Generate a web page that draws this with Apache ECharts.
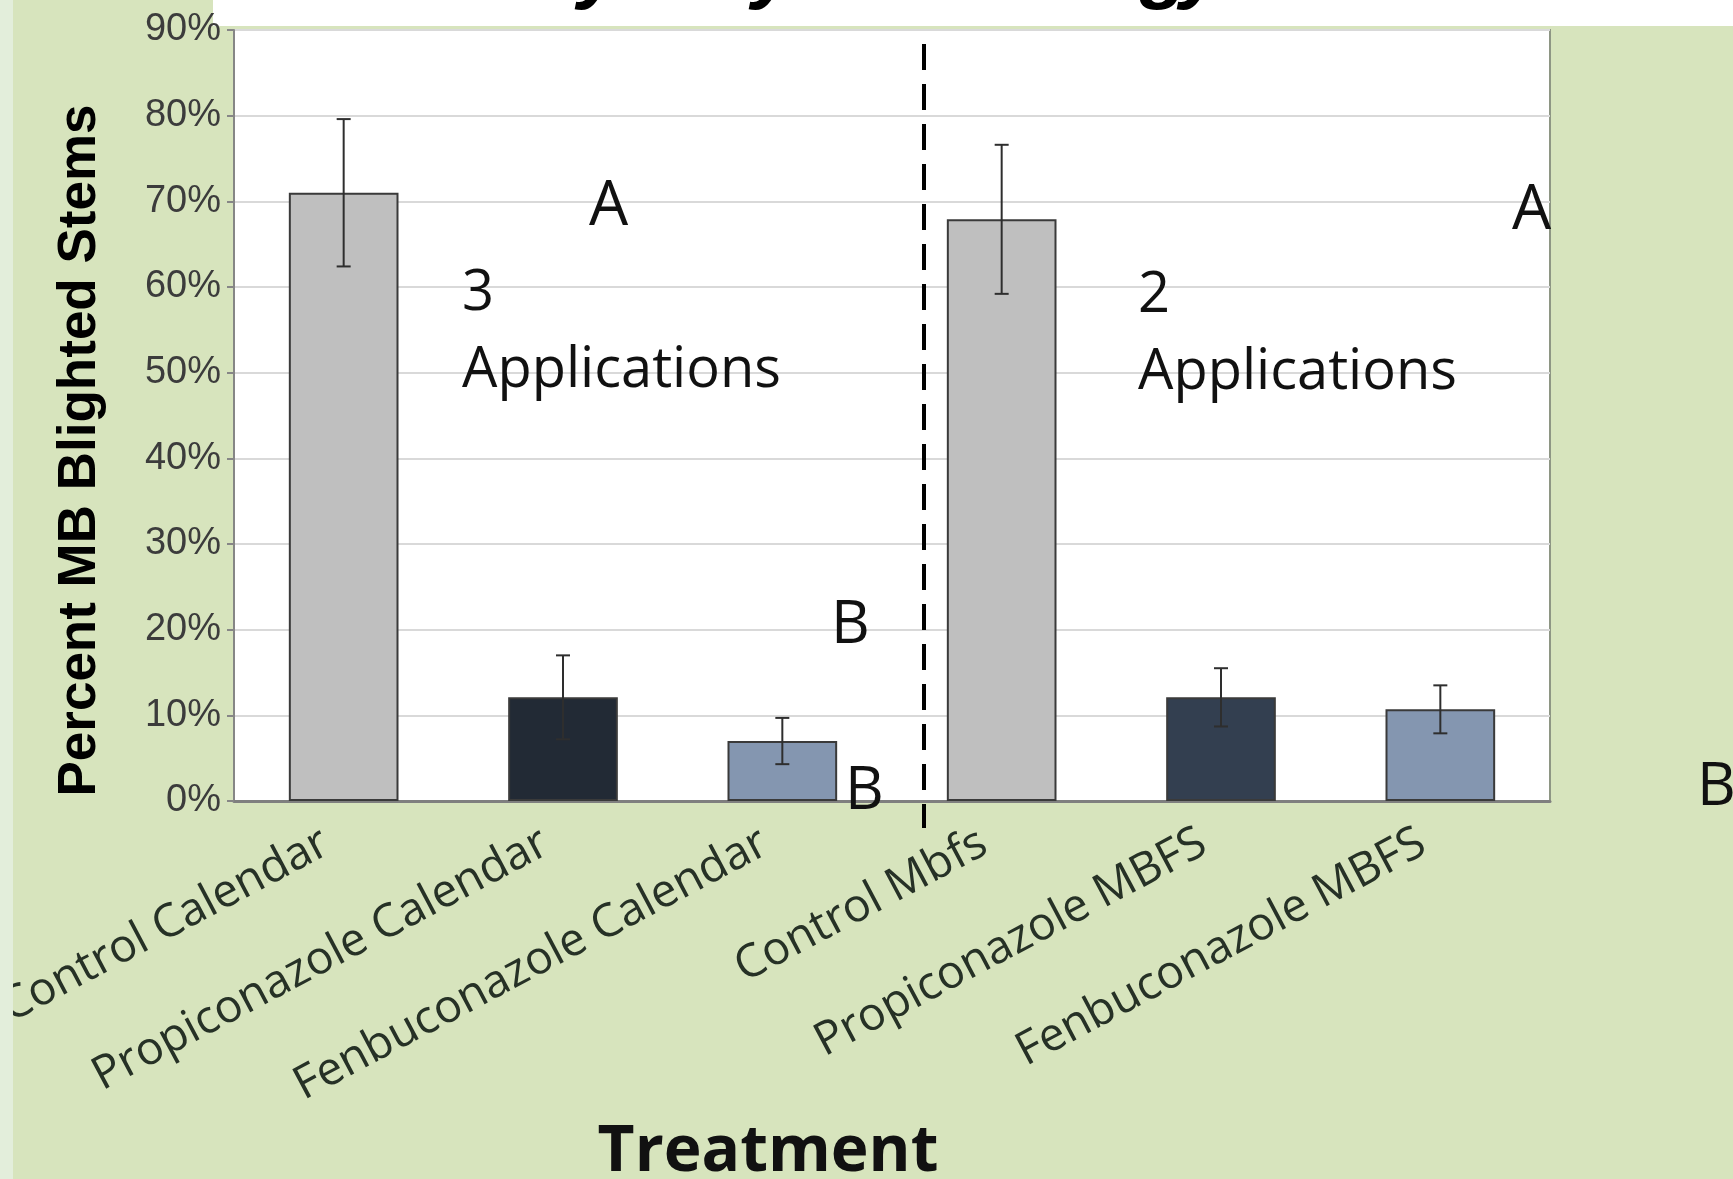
<!DOCTYPE html>
<html>
<head>
<meta charset="utf-8">
<script src="https://cdn.jsdelivr.net/npm/echarts@6/dist/echarts.min.js"></script>
<style>
  html, body { margin: 0; padding: 0; background: #d7e4bd; }
  #chart { width: 1733px; height: 1179px; }
</style>
</head>
<body>
<div id="chart"></div>
<script>
// ---- data ----
const categories = ['Control Calendar', 'Propiconazole Calendar', 'Fenbuconazole Calendar',
                    'Control Mbfs', 'Propiconazole MBFS', 'Fenbuconazole MBFS'];
const meanValues = [71.0, 12.1, 7.0, 67.9, 12.1, 10.7];   // percent
const errorValues = [8.6, 4.9, 2.7, 8.7, 3.4, 2.8];       // +/- percent
const barColors = ['#bfbfbf', '#222a35', '#8496b0', '#bfbfbf', '#333f50', '#8496b0'];
const yMin = 0, yMax = 90, yStep = 10;

const chart = echarts.init(document.getElementById('chart'));

const barData = meanValues.map((v, i) => ({ value: v, itemStyle: { color: barColors[i] } }));
const errData = meanValues.map((v, i) => [i, v + errorValues[i], v - errorValues[i]]);

const annoFont = '"Open Sans", "Noto Sans", sans-serif';
// baseline-positioned text helper (top-aligned text, top = baseline - 0.8em)
function txt(text, x, baseline, size) {
  return { type: 'text', x: x, y: baseline - 0.8 * size, z: 100,
    style: { text: text, fill: '#111', font: size + 'px ' + annoFont, verticalAlign: 'top' } };
}
function frag(text, x) {
  const size = 80;
  return { type: 'text', x: x, y: -4 - 0.81 * size, z: 100,
    style: { text: text, fill: '#000', font: 'italic bold ' + size + 'px "Liberation Sans", Arial, sans-serif', verticalAlign: 'top' } };
}

chart.setOption({
  backgroundColor: '#d7e4bd',
  animation: false,
  grid: { left: 234, right: 183, top: 30, bottom: 378, show: true, containLabel: false,
          outerBoundsMode: 'none',
          backgroundColor: '#ffffff', borderColor: '#8e9684', borderWidth: 2 },
  xAxis: {
    type: 'category',
    data: categories,
    axisLine: { show: true, lineStyle: { color: '#7f7f7f', width: 3 } },
    axisTick: { show: false },
    axisLabel: { interval: 0, rotate: 28, margin: 30, color: '#263126',
                 fontSize: 46, fontFamily: annoFont, padding: [0, 20, 0, 0] }
  },
  yAxis: {
    type: 'value', min: yMin, max: yMax, interval: yStep,
    name: 'Percent MB Blighted Stems', nameLocation: 'middle', nameGap: 127,
    nameTextStyle: { fontSize: 53, fontWeight: 'bold', color: '#000',
                     fontFamily: '"Liberation Sans", Arial, sans-serif', padding: [0, 70, 0, 0] },
    axisLine: { show: true, lineStyle: { color: '#868686', width: 2 } },
    axisTick: { show: true, length: 7, lineStyle: { color: '#868686', width: 2 } },
    axisLabel: { formatter: '{value}%', margin: 13, color: '#3c3c3c', fontSize: 38,
                 fontFamily: '"Liberation Sans", Arial, sans-serif' },
    splitLine: { lineStyle: { color: '#d9d9d9', width: 2 } }
  },
  series: [
    { type: 'bar', data: barData, barWidth: '50%',
      itemStyle: { borderColor: '#3a3a3a', borderWidth: 2 } },
    { type: 'custom', data: errData, z: 10,
      renderItem: function (params, api) {
        const idx = api.value(0);
        const pHi = api.coord([idx, api.value(1)]);
        const pLo = api.coord([idx, api.value(2)]);
        const hw = 7;
        const st = { stroke: '#2e2e2e', lineWidth: 2 };
        return { type: 'group', children: [
          { type: 'line', shape: { x1: pHi[0], y1: pHi[1], x2: pLo[0], y2: pLo[1] }, style: st },
          { type: 'line', shape: { x1: pHi[0] - hw, y1: pHi[1], x2: pHi[0] + hw, y2: pHi[1] }, style: st },
          { type: 'line', shape: { x1: pLo[0] - hw, y1: pLo[1], x2: pLo[0] + hw, y2: pLo[1] }, style: st }
        ]};
      }
    }
  ],
  graphic: [
    { type: 'rect', z: 200, shape: { x: 0, y: 0, width: 13, height: 1179 }, style: { fill: '#e3eedb' } },
    { type: 'rect', z: -1, shape: { x: 213, y: 0, width: 1520, height: 26 }, style: { fill: '#ffffff' } },
    frag('y', 578), frag('y', 752), frag('g', 1140), frag('y', 1180),
    { type: 'line', z: 100, shape: { x1: 924, y1: 44, x2: 924, y2: 828 },
      style: { stroke: '#000', lineWidth: 4, lineDash: [26, 14] } },
    txt('A', 589, 226, 62),
    txt('3', 462, 311, 56),
    txt('Applications', 462, 388, 56),
    txt('B', 831, 644, 60),
    txt('B', 845, 810, 60),
    txt('A', 1512, 230, 62),
    txt('2', 1138, 313, 56),
    txt('Applications', 1138, 390, 56),
    txt('B', 1697, 806, 60),
    { type: 'text', x: 768, y: 1172 - 0.8 * 64, z: 100,
      style: { text: 'Treatment', fill: '#111', align: 'center', verticalAlign: 'top',
               font: 'bold 64px "Open Sans", "Noto Sans", sans-serif' } }
  ]
});
</script>
</body>
</html>
